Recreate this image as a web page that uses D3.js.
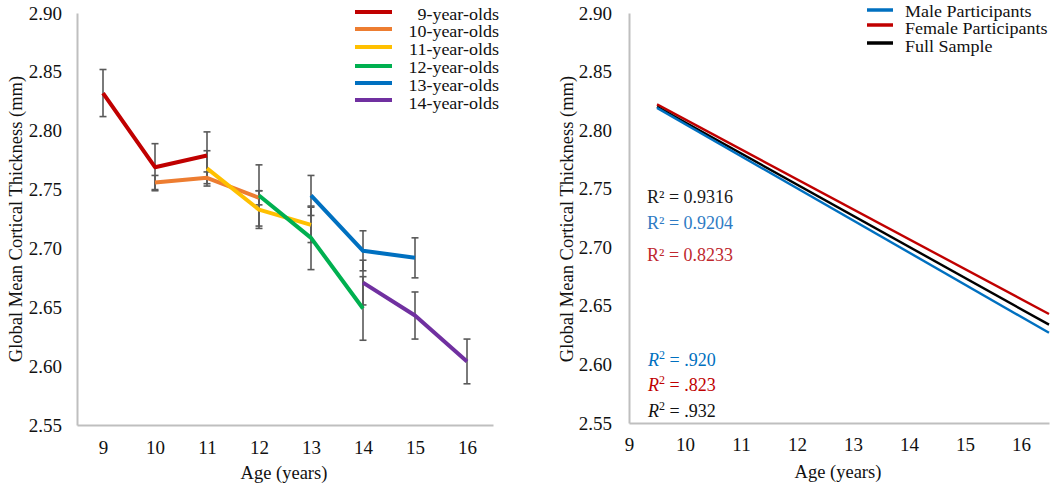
<!DOCTYPE html>
<html><head><meta charset="utf-8">
<script src="https://cdn.jsdelivr.net/npm/d3@7"></script>
<style>
body{margin:0;background:#fff;}
svg{display:block;font-family:"Liberation Serif","Times New Roman",serif;}
</style></head>
<body>
<svg id="c" width="1050" height="488"></svg>
<script>
// ---------- data ----------
const ageCategories = [9,10,11,12,13,14,15,16];
const yTicks = [2.55,2.60,2.65,2.70,2.75,2.80,2.85,2.90];
const cohortNames = ["9-year-olds","10-year-olds","11-year-olds","12-year-olds","13-year-olds","14-year-olds"];
const cohortColors = ["#c00000","#ed7d31","#ffc000","#00b050","#0070c0","#7030a0"];
const cohort9Ages = [9,10,11],  cohort9Means = [2.832,2.769,2.779], cohort9Err = [0.020,0.020,0.020];
const cohort10Ages = [10,11,12], cohort10Means = [2.756,2.760,2.743], cohort10Err = [0.006,0.005,0.006];
const cohort11Ages = [11,12,13], cohort11Means = [2.768,2.733,2.720], cohort11Err = [0.015,0.016,0.015];
const cohort12Ages = [12,13,14], cohort12Means = [2.745,2.709,2.649], cohort12Err = [0.026,0.027,0.027];
const cohort13Ages = [13,14,15], cohort13Means = [2.745,2.698,2.692], cohort13Err = [0.017,0.017,0.017];
const cohort14Ages = [14,15,16], cohort14Means = [2.671,2.643,2.604], cohort14Err = [0.019,0.020,0.019];

const trendXTicks = [9,10,11,12,13,14,15,16];
const trendAges = [9.5,16.5];
const trendNames = ["Male Participants","Female Participants","Full Sample"];
const trendColors = ["#0070c0","#c00000","#000000"];
const maleTrend = [2.819,2.627];
const femaleTrend = [2.822,2.643];
const fullTrend = [2.820,2.634];
const r2Upper = ["0.9316","0.9204","0.8233"];
const r2UpperColors = ["#1a1a1a","#2e7bc4","#c0282e"];
const r2Lower = [".920",".823",".932"];
const r2LowerColors = ["#0070c0","#c00000","#111111"];

// ---------- helpers ----------
const svg = d3.select("#c");
const axisGray = "#bfbfbf";
function styleAxis(g){
  g.select(".domain").attr("stroke",axisGray).attr("stroke-width",2);
  g.selectAll("text").attr("fill","#111").style("font-size","19px").style("font-family",'"Liberation Serif","Times New Roman",serif');
}
// legend text: width of an 18px label, drawn with 16px-high glyphs
function legendText(sel){
  sel.style("font-size","18px");
  const w = sel.node().getComputedTextLength();
  sel.style("font-size","16px").attr("textLength",w).attr("lengthAdjust","spacingAndGlyphs");
  return sel;
}

// ---------- left chart ----------
const L = {l:77, r:493, t:13, b:425};
const xL = d3.scalePoint().domain(ageCategories).range([L.l,L.r]).padding(0.5);
const yL = d3.scaleLinear().domain([2.55,2.90]).range([L.b,L.t]);

svg.append("g").attr("transform",`translate(0,${L.b})`)
  .call(d3.axisBottom(xL).tickSize(0).tickSizeOuter(0).tickPadding(16)).call(styleAxis);
svg.append("g").attr("transform",`translate(${L.l},0)`)
  .call(d3.axisLeft(yL).tickValues(yTicks).tickFormat(d3.format(".2f")).tickSize(0).tickSizeOuter(0).tickPadding(15)).call(styleAxis);

const cohorts = [
  [cohort9Ages,cohort9Means,cohort9Err],
  [cohort10Ages,cohort10Means,cohort10Err],
  [cohort11Ages,cohort11Means,cohort11Err],
  [cohort12Ages,cohort12Means,cohort12Err],
  [cohort13Ages,cohort13Means,cohort13Err],
  [cohort14Ages,cohort14Means,cohort14Err]
].map((c,i)=>({name:cohortNames[i],color:cohortColors[i],pts:c[0].map((a,j)=>({age:a,m:c[1][j],e:c[2][j]}))}));

// error bars
const eb = svg.append("g").attr("stroke","#595959").attr("stroke-width",1.6);
cohorts.forEach(c=>c.pts.forEach(p=>{
  const x = xL(p.age);
  eb.append("line").attr("x1",x).attr("x2",x).attr("y1",yL(p.m+p.e)).attr("y2",yL(p.m-p.e));
  [p.m+p.e,p.m-p.e].forEach(v=>eb.append("line").attr("x1",x-3.5).attr("x2",x+3.5).attr("y1",yL(v)).attr("y2",yL(v)));
}));

const lineL = d3.line().x(d=>xL(d.age)).y(d=>yL(d.m));
cohorts.forEach(c=>{
  svg.append("path").datum(c.pts).attr("d",lineL).attr("fill","none")
    .attr("stroke",c.color).attr("stroke-width",4).attr("stroke-linejoin","round");
});

// left legend
const legL = svg.append("g");
const legLY = [12,29,47,66,83,100];
const legLBase = [20,37,55,73,91,109];
cohorts.forEach((c,i)=>{
  legL.append("line").attr("x1",355).attr("x2",392).attr("y1",legLY[i]).attr("y2",legLY[i])
    .attr("stroke",c.color).attr("stroke-width",4);
  legL.append("text").attr("x",499).attr("y",legLBase[i]).attr("text-anchor","end")
    .attr("fill","#111").text(c.name).call(legendText);
});

// axis titles left
svg.append("text").attr("transform",`translate(22,219) rotate(-90)`).attr("text-anchor","middle")
  .style("font-size","18.5px").attr("fill","#111").text("Global Mean Cortical Thickness (mm)");
svg.append("text").attr("x",284).attr("y",479).attr("text-anchor","middle")
  .style("font-size","18.5px").attr("fill","#111").text("Age (years)");

// ---------- right chart ----------
const R = {l:629, r:1049, t:13, b:423};
const xR = d3.scaleLinear().domain([9,16.5]).range([R.l,R.r]);
const yR = d3.scaleLinear().domain([2.55,2.90]).range([R.b,R.t]);

svg.append("g").attr("transform",`translate(0,${R.b})`)
  .call(d3.axisBottom(xR).tickValues(trendXTicks).tickFormat(d3.format("d")).tickSize(0).tickSizeOuter(0).tickPadding(15)).call(styleAxis);
svg.append("g").attr("transform",`translate(${R.l},0)`)
  .call(d3.axisLeft(yR).tickValues(yTicks).tickFormat(d3.format(".2f")).tickSize(0).tickSizeOuter(0).tickPadding(17)).call(styleAxis);

const trends = [maleTrend,femaleTrend,fullTrend].map((v,i)=>({name:trendNames[i],color:trendColors[i],pts:trendAges.map((a,j)=>({age:a,v:v[j]}))}));
const lineR = d3.line().x(d=>xR(d.age)).y(d=>yR(d.v));
[1,2,0].forEach(i=>{
  svg.append("path").datum(trends[i].pts).attr("d",lineR).attr("fill","none")
    .attr("stroke",trends[i].color).attr("stroke-width",2.4);
});

// right legend
const legRY = [10,25,43];
const legRBase = [17,34,52];
trends.forEach((t,i)=>{
  svg.append("line").attr("x1",867).attr("x2",893).attr("y1",legRY[i]).attr("y2",legRY[i])
    .attr("stroke",t.color).attr("stroke-width",3.5);
  svg.append("text").attr("x",905).attr("y",legRBase[i]).attr("fill","#111").text(t.name).call(legendText);
});

// R² annotations
const upperY = [203,229,261];
r2Upper.forEach((s,i)=>{
  svg.append("text").attr("x",647).attr("y",upperY[i]).style("font-size","18px")
    .attr("fill",r2UpperColors[i]).text("R² = "+s);
});
const lowerY = [366,391,417];
r2Lower.forEach((s,i)=>{
  const t = svg.append("text").attr("x",648).attr("y",lowerY[i]).style("font-size","18px").attr("fill",r2LowerColors[i]);
  t.append("tspan").style("font-style","italic").text("R");
  t.append("tspan").attr("dy",-7).style("font-size","12px").text("2");
  t.append("tspan").attr("dy",7).text(" = "+s);
});

// axis titles right
svg.append("text").attr("transform",`translate(573,219) rotate(-90)`).attr("text-anchor","middle")
  .style("font-size","18.5px").attr("fill","#111").text("Global Mean Cortical Thickness (mm)");
svg.append("text").attr("x",838).attr("y",478).attr("text-anchor","middle")
  .style("font-size","18.5px").attr("fill","#111").text("Age (years)");
</script>
</body></html>
